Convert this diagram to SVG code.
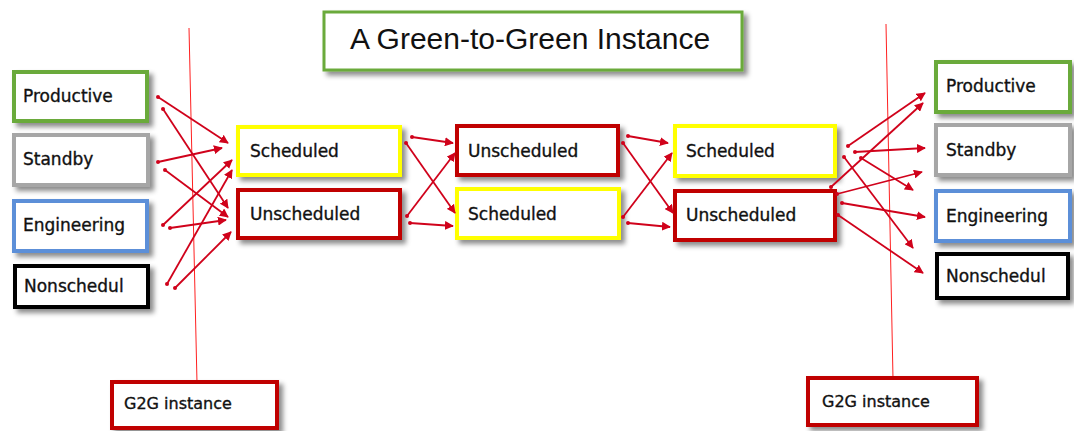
<svg xmlns="http://www.w3.org/2000/svg" width="1074" height="431" viewBox="0 0 1074 431">
<defs>
<filter id="sh" x="-20%" y="-30%" width="150%" height="170%">
<feDropShadow dx="4" dy="4" stdDeviation="2.5" flood-color="#000" flood-opacity="0.45"/>
</filter>
<marker id="ah" viewBox="0 0 10 10" refX="9" refY="5" markerWidth="9" markerHeight="9" markerUnits="userSpaceOnUse" orient="auto">
<path d="M0,0 L10,5 L0,10 Z" fill="#d0021b"/>
</marker>
<marker id="dot" viewBox="0 0 6 6" refX="3" refY="3" markerWidth="4" markerHeight="4" markerUnits="userSpaceOnUse">
<circle cx="3" cy="3" r="3" fill="#d0021b"/>
</marker>
</defs>
<style>
.box{fill:#fff;stroke-width:4;filter:url(#sh)}
.g{stroke:#6aaa3a}.gr{stroke:#a6a6a6}.b{stroke:#5b8fd8}.k{stroke:#000}.y{stroke:#ffff00}.r{stroke:#c00000}
.t{font-family:"DejaVu Sans",Verdana,sans-serif;font-size:17px;fill:#111;stroke:#111;stroke-width:0.35}
.s{font-size:16px}
.c line{stroke:#d0021b;stroke-width:1.8;marker-end:url(#ah);marker-start:url(#dot)}
.v{stroke:#ff2020;stroke-width:1}
</style>
<rect width="1074" height="431" fill="#fff"/>
<g id="title">
<rect x="324" y="12" width="418" height="58" fill="#fff" stroke="#6aaa3a" stroke-width="3" filter="url(#sh)"/>
<text x="530" y="49" text-anchor="middle" font-family="Liberation Sans,Arial,sans-serif" font-size="30" fill="#111">A Green-to-Green Instance</text>
</g>
<g id="guides">
<line class="v" x1="189" y1="28" x2="197" y2="383"/>
<line class="v" x1="886" y1="24" x2="893" y2="379"/>
</g>
<g id="l-productive"><rect class="box g" x="14" y="72" width="133" height="49"/><text class="t" x="23" y="102">Productive</text></g>
<g id="l-standby"><rect class="box gr" x="14" y="135" width="134" height="50"/><text class="t" x="23" y="165">Standby</text></g>
<g id="l-engineering"><rect class="box b" x="14" y="201" width="133" height="50"/><text class="t" x="23" y="231">Engineering</text></g>
<g id="l-nonschedul"><rect class="box k" x="15" y="266" width="133" height="41"/><text class="t" x="24" y="292">Nonschedul</text></g>
<g id="c1-scheduled"><rect class="box y" x="238" y="127" width="162" height="48"/><text class="t" x="250" y="157">Scheduled</text></g>
<g id="c1-unscheduled"><rect class="box r" x="238" y="190" width="162" height="48"/><text class="t" x="250" y="220">Unscheduled</text></g>
<g id="c2-unscheduled"><rect class="box r" x="457" y="126" width="161" height="49"/><text class="t" x="468" y="157">Unscheduled</text></g>
<g id="c2-scheduled"><rect class="box y" x="457" y="189" width="162" height="49"/><text class="t" x="468" y="220">Scheduled</text></g>
<g id="c3-scheduled"><rect class="box y" x="675" y="126" width="160" height="50"/><text class="t" x="686" y="157">Scheduled</text></g>
<g id="c3-unscheduled"><rect class="box r" x="675" y="191" width="160" height="49"/><text class="t" x="686" y="221">Unscheduled</text></g>
<g id="r-productive"><rect class="box g" x="936" y="62" width="134" height="50"/><text class="t" x="946" y="92">Productive</text></g>
<g id="r-standby"><rect class="box gr" x="936" y="125" width="134" height="50"/><text class="t" x="946" y="156">Standby</text></g>
<g id="r-engineering"><rect class="box b" x="936" y="191" width="134" height="50"/><text class="t" x="946" y="222">Engineering</text></g>
<g id="r-nonschedul"><rect class="box k" x="937" y="254" width="131" height="44"/><text class="t" x="946" y="282">Nonschedul</text></g>
<g id="g2g-left"><rect class="box r" x="112" y="382" width="165" height="46"/><text class="t s" x="124" y="409">G2G instance</text></g>
<g id="g2g-right"><rect class="box r" x="808" y="378" width="169" height="47"/><text class="t s" x="822" y="407">G2G instance</text></g>
<g id="connectors" class="c">
<line x1="158" y1="97" x2="228" y2="143"/>
<line x1="163" y1="109" x2="228" y2="208"/>
<line x1="158" y1="162" x2="222" y2="148"/>
<line x1="165" y1="170" x2="228" y2="217"/>
<line x1="163" y1="225" x2="232" y2="160"/>
<line x1="170" y1="228" x2="226" y2="220"/>
<line x1="167" y1="284" x2="232" y2="170"/>
<line x1="175" y1="288" x2="231" y2="232"/>
<line x1="412" y1="137" x2="453" y2="143"/>
<line x1="406" y1="143" x2="455" y2="213"/>
<line x1="407" y1="216" x2="455" y2="153"/>
<line x1="410" y1="223" x2="453" y2="226"/>
<line x1="628" y1="136" x2="668" y2="143"/>
<line x1="623" y1="143" x2="673" y2="213"/>
<line x1="623" y1="217" x2="672" y2="153"/>
<line x1="628" y1="223" x2="670" y2="227"/>
<line x1="848" y1="146" x2="925" y2="93"/>
<line x1="855" y1="152" x2="925" y2="148"/>
<line x1="861" y1="158" x2="913" y2="190"/>
<line x1="844" y1="157" x2="913" y2="248"/>
<line x1="831" y1="187" x2="923" y2="103"/>
<line x1="837" y1="194" x2="922" y2="172"/>
<line x1="842" y1="203" x2="925" y2="217"/>
<line x1="838" y1="215" x2="923" y2="273"/>
</g>
</svg>
